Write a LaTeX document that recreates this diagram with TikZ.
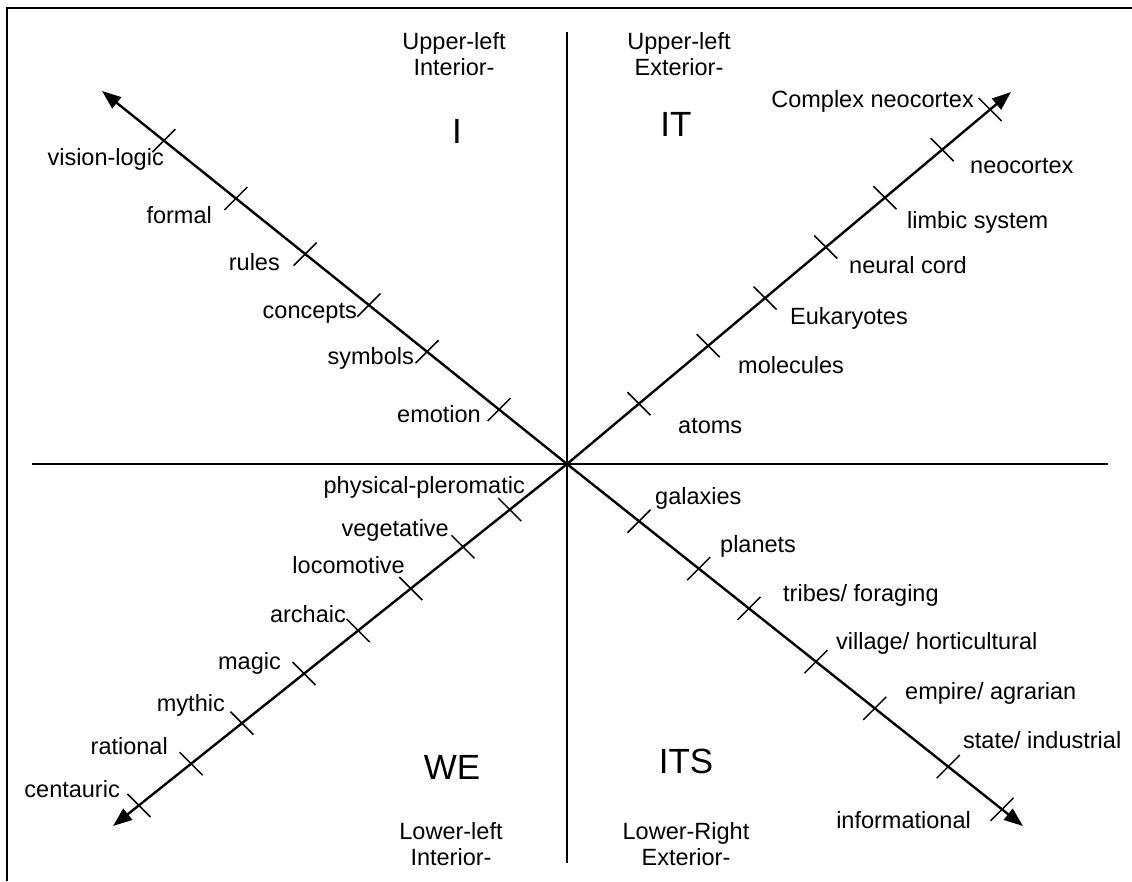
\documentclass[tikz,border=0pt]{standalone}
\usepackage{fontspec}
\setmainfont{Liberation Sans}
\usetikzlibrary{arrows.meta,calc}
\begin{document}
\begin{tikzpicture}[x=1pt,y=-1pt,
  frame/.style={line width=2.2pt},
  axis/.style={line width=2pt},
  diag/.style={line width=2.4pt,-{Triangle[length=19pt,width=14pt]}},
  tickmark/.style={line width=1.5pt},
  lbl/.style={font=\fontsize{23.5}{26}\selectfont, inner sep=0pt, text height=17pt, text depth=5pt},
  big/.style={font=\fontsize{35}{40}\selectfont, inner sep=0pt},
  quad/.style={font=\fontsize{23.5}{26}\selectfont, inner sep=0pt, align=center}]
\useasboundingbox (0,0) rectangle (1132,881);
% frame
\draw[frame] (1132,8) -- (7,8) -- (7,881);
% axes
\coordinate (C) at (567,464);
\coordinate (W) at (32,464);
\coordinate (E) at (1108,464);
\coordinate (N) at (567,32);
\coordinate (S) at (567,863);
\draw[axis] (W) -- (E);
\draw[axis] (N) -- (S);
% diagonal arrows
\coordinate (UL) at (102,91);
\coordinate (UR) at (1011,92);
\coordinate (LL) at (113,826);
\coordinate (LR) at (1023,826);
\draw[diag] (C) -- (UL);
\draw[diag] (C) -- (UR);
\draw[diag] (C) -- (LL);
\draw[diag] (C) -- (LR);
% ticks
\foreach \t in {0.867,0.712,0.563,0.426,0.301,0.146}
  \draw[tickmark] ($(C)!\t!(UL)$) ++(-11.5,11.5) -- ++(23,-23);
\foreach \t in {0.158,0.289,0.399,0.546,0.675,0.836,0.954}
  \draw[tickmark] ($(C)!\t!(LR)$) ++(-11.5,11.5) -- ++(23,-23);
\foreach \t in {0.953,0.845,0.716,0.583,0.446,0.318,0.162}
  \draw[tickmark] ($(C)!\t!(UR)$) ++(-11.5,-11.5) -- ++(23,23);
\foreach \t in {0.126,0.229,0.344,0.460,0.579,0.716,0.828,0.943}
  \draw[tickmark] ($(C)!\t!(LL)$) ++(-11.5,-11.5) -- ++(23,23);
% quadrant titles
\node[quad] (ulq) at (454,54) {Upper-left\\Interior-};
\node[quad] (urq) at (679,54) {Upper-left\\Exterior-};
\node[quad] (llq) at (451,844) {Lower-left\\Interior-};
\node[quad] (lrq) at (686,844) {Lower-Right\\Exterior-};
\node[big] (qI) at (457,131) {I};
\node[big] (qIT) at (676,124) {IT};
\node[big] (qWE) at (452,767) {WE};
\node[big] (qITS) at (686,761) {ITS};
% upper-left labels
\node[lbl,anchor=east] (l1) at (164,159) {vision-logic};
\node[lbl,anchor=east] (l2) at (212,217) {formal};
\node[lbl,anchor=east] (l3) at (280,264) {rules};
\node[lbl,anchor=east] (l4) at (357,312) {concepts};
\node[lbl,anchor=east] (l5) at (414,358) {symbols};
\node[lbl,anchor=east] (l6) at (481,416) {emotion};
% upper-right labels
\node[lbl,anchor=east] (r1) at (974,101) {Complex neocortex};
\node[lbl,anchor=west] (r2) at (970,167) {neocortex};
\node[lbl,anchor=west] (r3) at (907,222) {limbic system};
\node[lbl,anchor=west] (r4) at (849,267) {neural cord};
\node[lbl,anchor=west] (r5) at (790,318) {Eukaryotes};
\node[lbl,anchor=west] (r6) at (738,367) {molecules};
\node[lbl,anchor=west] (r7) at (678,427) {atoms};
% lower-left labels
\node[lbl,anchor=east] (d1) at (525,487) {physical-pleromatic};
\node[lbl,anchor=east] (d2) at (449,530) {vegetative};
\node[lbl,anchor=east] (d3) at (405,567) {locomotive};
\node[lbl,anchor=east] (d4) at (346,616) {archaic};
\node[lbl,anchor=east] (d5) at (281,663) {magic};
\node[lbl,anchor=east] (d6) at (225,705) {mythic};
\node[lbl,anchor=east] (d7) at (168,748) {rational};
\node[lbl,anchor=east] (d8) at (120,791) {centauric};
% lower-right labels
\node[lbl,anchor=west] (s1) at (655,498) {galaxies};
\node[lbl,anchor=west] (s2) at (720,546) {planets};
\node[lbl,anchor=west] (s3) at (783,595) {tribes/ foraging};
\node[lbl,anchor=west] (s4) at (836,643) {village/ horticultural};
\node[lbl,anchor=west] (s5) at (905,693) {empire/ agrarian};
\node[lbl,anchor=west] (s6) at (963,742) {state/ industrial};
\node[lbl,anchor=east] (s7) at (971,822) {informational};
\end{tikzpicture}
\end{document}
